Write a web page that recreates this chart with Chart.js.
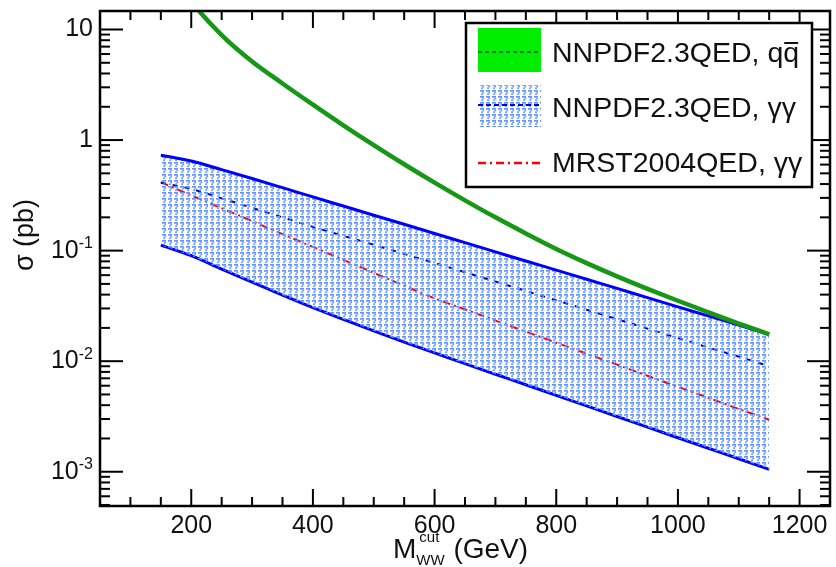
<!DOCTYPE html>
<html>
<head>
<meta charset="utf-8">
<title>WW cross section vs M_WW cut</title>
<script src="https://cdn.jsdelivr.net/npm/chart.js@4.4.1/dist/chart.umd.min.js"></script>
<style>
  html, body { margin: 0; padding: 0; background: #fff; }
  #wrap { width: 836px; height: 567px; }
</style>
</head>
<body>
<div id="wrap"><canvas id="sigmaChart" width="836" height="567"></canvas></div>
<script>
// M_WW cut values (GeV)
const massCut = [150, 200, 250, 300, 350, 400, 450, 500, 550, 600, 650,
                 700, 750, 800, 850, 900, 950, 1000, 1050, 1100, 1150];

// NNPDF2.3QED, q qbar (pb)
const qqCentral = [41.7, 17.8, 8.91, 5.14, 3.25, 2.09, 1.36, 0.900, 0.604, 0.412, 0.285,
                   0.200, 0.143, 0.1036, 0.0771, 0.0585, 0.0451, 0.0352, 0.0277, 0.0219, 0.0175];

// NNPDF2.3QED, gamma gamma: band edges and central line (pb)
const yyUpper = [0.73, 0.646, 0.540, 0.449, 0.371, 0.306, 0.253, 0.209, 0.173, 0.143, 0.118,
                 0.0975, 0.0805, 0.0667, 0.0551, 0.0455, 0.0376, 0.0310, 0.0257, 0.0212, 0.0175];
const yyLower = [0.112, 0.090, 0.068, 0.0519, 0.0395, 0.0305, 0.0239, 0.0188, 0.0149, 0.0119, 0.0095,
                 0.00762, 0.00612, 0.00491, 0.00394, 0.00316, 0.00253, 0.00203, 0.00163, 0.00131, 0.00105];
const yyCentral = [0.41, 0.361, 0.297, 0.244, 0.2, 0.164, 0.136, 0.113, 0.0934, 0.0773, 0.0638,
                   0.0525, 0.0432, 0.0355, 0.0292, 0.024, 0.0197, 0.0162, 0.0133, 0.011, 0.009];

// MRST2004QED, gamma gamma (pb)
const mrstCentral = [0.416, 0.316, 0.242, 0.185, 0.141, 0.108, 0.0826, 0.063, 0.0482, 0.037, 0.0294,
                     0.0233, 0.0185, 0.0147, 0.0117, 0.0093, 0.00738, 0.00586, 0.00466, 0.0037, 0.00295];

const xTickValues = [200, 400, 600, 800, 1000, 1200];
const yTickValues = [10, 1, 0.1, 0.01, 0.001];
const yTickBase = ['10', '1', '10', '10', '10'];
const yTickExp = ['', '', '-1', '-2', '-3'];
const legendLabels = ['NNPDF2.3QED, qq', 'NNPDF2.3QED, \u03b3\u03b3', 'MRST2004QED, \u03b3\u03b3'];

const FONT = '"Liberation Sans", Arial, Helvetica, sans-serif';

// light blue hatch used for the gamma gamma band
function makeHatch() {
    const c = document.createElement('canvas');
    c.width = 6; c.height = 6;
    const g = c.getContext('2d');
    g.fillStyle = '#6393ff';
    g.fillRect(0, 0, 4, 1.7);
    g.fillRect(2.4, 1.7, 1.7, 1.6);
    g.fillRect(1.2, 3.3, 1.7, 1.8);
    return g.createPattern(c, 'repeat');
}
const hatch = makeHatch();

const pts = (arr) => massCut.map((m, i) => ({ x: m, y: arr[i] }));

function line(ctx, x1, y1, x2, y2) {
    ctx.beginPath();
    ctx.moveTo(x1, y1);
    ctx.lineTo(x2, y2);
    ctx.stroke();
}

const frameAndLegend = {
    id: 'frameAndLegend',
    afterDatasetsDraw(chart) {
        const { ctx, chartArea: a, scales: { x, y } } = chart;
        ctx.save();
        ctx.strokeStyle = '#000';
        ctx.lineWidth = 2;

        // x ticks, bottom and top, pointing inwards
        for (let v = 100; v < x.max; v += 50) {
            const px = x.getPixelForValue(v);
            const len = v % 200 === 0 ? 17 : 9;
            line(ctx, px, a.bottom, px, a.bottom - len);
            line(ctx, px, a.top, px, a.top + len);
        }
        // y ticks, left and right
        for (let e = -4; e <= 1; e++) {
            for (let m = 1; m <= 9; m++) {
                const v = m * Math.pow(10, e);
                if (v <= y.min || v >= y.max) continue;
                const py = y.getPixelForValue(v);
                const len = m === 1 ? 23 : 10;
                line(ctx, a.left, py, a.left + len, py);
                line(ctx, a.right, py, a.right - len, py);
            }
        }
        ctx.lineWidth = 2.5;
        ctx.strokeRect(a.left, a.top, a.right - a.left, a.bottom - a.top);

        // y tick labels with exponents
        ctx.fillStyle = '#111';
        ctx.textBaseline = 'middle';
        yTickValues.forEach((v, i) => {
            const py = y.getPixelForValue(v);
            const right = a.left - 7;
            ctx.font = '16px ' + FONT;
            const ew = yTickExp[i] ? ctx.measureText(yTickExp[i]).width : 0;
            if (ew) {
                ctx.textAlign = 'right';
                ctx.fillText(yTickExp[i], right, py - 7);
            }
            ctx.font = '25px ' + FONT;
            ctx.textAlign = 'right';
            ctx.fillText(yTickBase[i], right - ew, py);
        });

        // y title
        ctx.save();
        ctx.translate(26, 235);
        ctx.rotate(-Math.PI / 2);
        ctx.textAlign = 'center';
        ctx.font = '27px ' + FONT;
        ctx.fillText('\u03c3 (pb)', 0, 0);
        ctx.restore();

        // x title: M_WW^cut (GeV)
        ctx.textAlign = 'left';
        ctx.textBaseline = 'alphabetic';
        let tx = 393;
        ctx.font = '28px ' + FONT;
        ctx.fillText('M', tx, 558);
        tx += ctx.measureText('M').width;
        ctx.font = '15px ' + FONT;
        ctx.fillText('cut', tx + 3, 542);
        ctx.fillText('WW', tx, 565);
        tx += ctx.measureText('WW').width + 1;
        ctx.font = '28px ' + FONT;
        ctx.fillText(' (GeV)', tx, 558);

        // legend box
        const L = 466, T = 23, R = 812, B = 187;
        ctx.fillStyle = '#fff';
        ctx.fillRect(L, T, R - L, B - T);
        ctx.strokeStyle = '#000';
        ctx.lineWidth = 2.5;
        ctx.strokeRect(L, T, R - L, B - T);

        // entry 1: green band
        ctx.fillStyle = '#00ee00';
        ctx.fillRect(478, 28, 63, 44);
        ctx.strokeStyle = '#1c4a1c';
        ctx.lineWidth = 1.5;
        ctx.setLineDash([4, 3]);
        line(ctx, 478, 52, 541, 52);
        // entry 2: hatched band
        ctx.fillStyle = hatch;
        ctx.fillRect(478, 85, 63, 42);
        ctx.strokeStyle = '#0000ee';
        ctx.lineWidth = 2;
        ctx.setLineDash([5, 3]);
        line(ctx, 478, 105, 541, 105);
        // entry 3: red dash-dot
        ctx.strokeStyle = '#ff0000';
        ctx.lineWidth = 2.5;
        ctx.setLineDash([8, 4, 2, 4]);
        line(ctx, 478, 163, 541, 163);
        ctx.setLineDash([]);

        ctx.fillStyle = '#111';
        ctx.font = '28.5px ' + FONT;
        const baselines = [62, 117, 172];
        legendLabels.forEach((t, i) => ctx.fillText(t, 552, baselines[i]));
        // bar over the second q
        const w1 = ctx.measureText('NNPDF2.3QED, q').width;
        const wq = ctx.measureText('q').width;
        ctx.strokeStyle = '#111';
        ctx.lineWidth = 2;
        line(ctx, 552 + w1 + 1, 43, 552 + w1 + wq - 1, 43);

        ctx.restore();
    }
};

const chart = new Chart(document.getElementById('sigmaChart').getContext('2d'), {
    type: 'line',
    data: {
        datasets: [
            {
                label: legendLabels[0],
                data: pts(qqCentral),
                borderColor: '#169816',
                borderWidth: 4.5,
                pointRadius: 0,
                cubicInterpolationMode: 'monotone',
                fill: false,
                clip: 0
            },
            {
                label: 'yy upper',
                data: pts(yyUpper),
                borderColor: '#0000ff',
                borderWidth: 3,
                pointRadius: 0,
                cubicInterpolationMode: 'monotone',
                backgroundColor: hatch,
                fill: '+1'
            },
            {
                label: 'yy lower',
                data: pts(yyLower),
                borderColor: '#0000ff',
                borderWidth: 3,
                pointRadius: 0,
                cubicInterpolationMode: 'monotone',
                fill: false
            },
            {
                label: legendLabels[1],
                data: pts(yyCentral),
                borderColor: '#0000dd',
                borderWidth: 2,
                borderDash: [5, 7],
                pointRadius: 0,
                cubicInterpolationMode: 'monotone',
                fill: false
            },
            {
                label: legendLabels[2],
                data: pts(mrstCentral),
                borderColor: '#ff0000',
                borderWidth: 2,
                borderDash: [8, 4, 2, 4],
                pointRadius: 0,
                cubicInterpolationMode: 'monotone',
                fill: false
            }
        ]
    },
    options: {
        responsive: false,
        animation: false,
        layout: { padding: { top: 11, right: 6, left: 0, bottom: 0 } },
        scales: {
            x: {
                type: 'linear',
                min: 50,
                max: 1250,
                grid: { display: false, drawTicks: false },
                border: { display: false },
                afterBuildTicks: (s) => { s.ticks = xTickValues.map(v => ({ value: v })); },
                afterFit: (s) => { s.height = 61; },
                ticks: {
                    autoSkip: false,
                    maxRotation: 0,
                    padding: 5,
                    color: '#111',
                    font: { family: FONT, size: 25 },
                    callback: (v) => String(v)
                }
            },
            y: {
                type: 'logarithmic',
                min: 4.9e-4,
                max: 14.7,
                grid: { display: false, drawTicks: false },
                border: { display: false },
                ticks: { display: false },
                afterFit: (s) => { s.width = 100; }
            }
        },
        plugins: {
            legend: { display: false },
            tooltip: { enabled: false }
        }
    },
    plugins: [frameAndLegend]
});
</script>
</body>
</html>
